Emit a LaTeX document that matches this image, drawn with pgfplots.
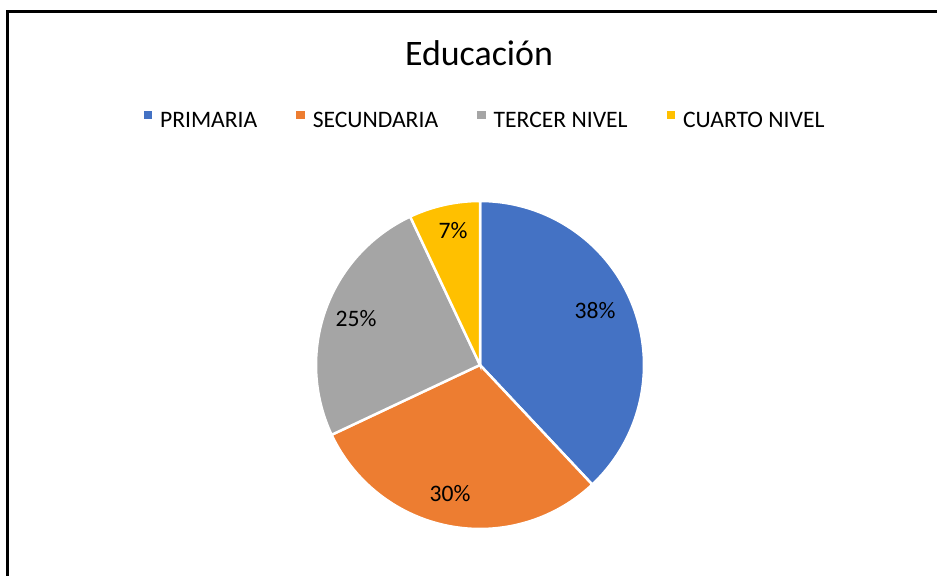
\documentclass[border=0pt]{standalone}
\usepackage{pgfplots}
\pgfplotsset{compat=1.18}
\usepackage{pgfplotstable}
\usepackage{fontspec}
\setmainfont{Carlito}
\definecolor{pblue}{HTML}{4472C4}
\definecolor{porange}{HTML}{ED7D31}
\definecolor{pgray}{HTML}{A5A5A5}
\definecolor{pyellow}{HTML}{FFC000}

\pgfplotstableread{
value
38
30
25
7
}\slices

\pgfplotstableread{
x y lab
595 257 38\%
450 74 30\%
356 249 25\%
453 337 7\%
}\labels

\pgfplotstablegetelem{0}{value}\of\slices
\pgfmathsetmacro\aA{90-3.6*\pgfplotsretval}
\pgfplotstablegetelem{1}{value}\of\slices
\pgfmathsetmacro\aB{\aA-3.6*\pgfplotsretval}
\pgfplotstablegetelem{2}{value}\of\slices
\pgfmathsetmacro\aC{\aB-3.6*\pgfplotsretval}
\pgfplotstablegetelem{3}{value}\of\slices
\pgfmathsetmacro\aD{\aC-3.6*\pgfplotsretval}

\def\cx{480}
\def\cy{211}
\def\rr{164}

\begin{document}
\begin{tikzpicture}
\begin{axis}[
  width=937bp, height=576bp, scale only axis,
  xmin=0, xmax=937, ymin=0, ymax=576,
  hide axis,
  legend columns=4,
  legend cell align=left,
  legend image code/.code={\fill[#1,draw=none] (0bp,2bp) rectangle (8.5bp,10.5bp);},
  legend style={at={(axis cs:484,456)}, anchor=center, draw=none, fill=none,
    font=\fontsize{23.7}{28}\selectfont,
    nodes={inner sep=0pt},
    /tikz/every odd column/.append style={column sep=8bp},
    /tikz/every even column/.append style={column sep=39bp}},
]
\path (axis cs:0,0) rectangle (axis cs:937,576);
\addplot[fill=pblue, draw=white, line width=2.5bp, domain=\aA:90, samples=90, variable=\t]
  ({\cx+\rr*cos(\t)},{\cy+\rr*sin(\t)}) -- (axis cs:\cx,\cy) -- cycle;
\addlegendentry{PRIMARIA}
\addplot[fill=porange, draw=white, line width=2.5bp, domain=\aB:\aA, samples=80, variable=\t]
  ({\cx+\rr*cos(\t)},{\cy+\rr*sin(\t)}) -- (axis cs:\cx,\cy) -- cycle;
\addlegendentry{SECUNDARIA}
\addplot[fill=pgray, draw=white, line width=2.5bp, domain=\aC:\aB, samples=70, variable=\t]
  ({\cx+\rr*cos(\t)},{\cy+\rr*sin(\t)}) -- (axis cs:\cx,\cy) -- cycle;
\addlegendentry{TERCER NIVEL}
\addplot[fill=pyellow, draw=white, line width=2.5bp, domain=\aD:\aC, samples=30, variable=\t]
  ({\cx+\rr*cos(\t)},{\cy+\rr*sin(\t)}) -- (axis cs:\cx,\cy) -- cycle;
\addlegendentry{CUARTO NIVEL}
\addplot[forget plot, draw=none, mark=none, nodes near coords, point meta=explicit symbolic,
  every node near coord/.style={anchor=base, inner sep=0pt, font=\fontsize{23.7}{28}\selectfont, text=black}]
  table[x=x, y=y, meta=lab] {\labels};
\node[anchor=base, font=\fontsize{36}{42}\selectfont] at (axis cs:479,510) {Educación};
\draw[black, line width=3bp] (axis cs:7,0) -- (axis cs:7,564) -- (axis cs:937,564);
\end{axis}
\end{tikzpicture}
\end{document}
